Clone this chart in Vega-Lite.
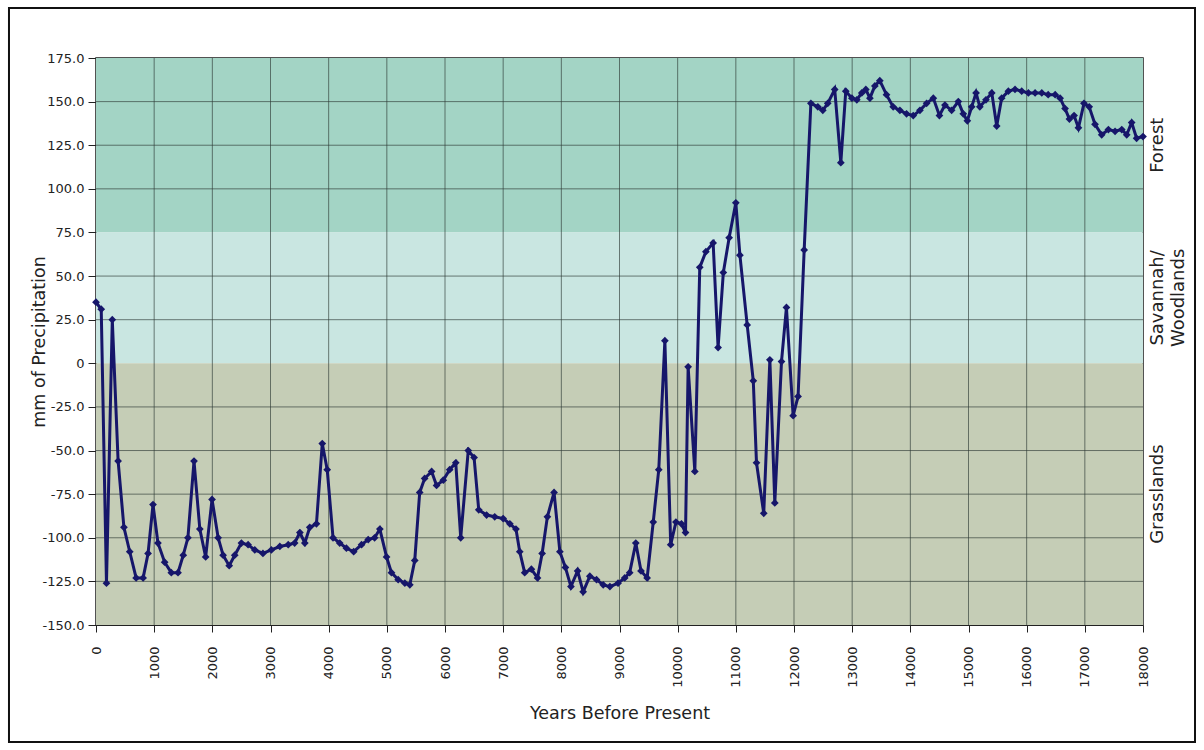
{
  "$schema": "https://vega.github.io/schema/vega-lite/v6.json",
  "width": 1047,
  "height": 567,
  "autosize": {"type": "none"},
  "padding": {"left": 96, "top": 58, "right": 61, "bottom": 125},
  "background": "white",
  "config": {
    "view": {"stroke": "#1a1a1a", "strokeWidth": 1.5},
    "font": "DejaVu Sans"
  },
  "datasets": {
    "bands": [
      {"zone": "Forest", "lo": 75, "hi": 175},
      {"zone": "Savannah", "lo": 0, "hi": 75},
      {"zone": "Grassland", "lo": -150, "hi": 0}
    ],
    "zonelabels": [
      {"label": "Forest", "mid": 125},
      {"label": "Savannah/\nWoodlands", "mid": 37.5},
      {"label": "Grasslands", "mid": -75}
    ],
    "xgrid": [{"v":1000},{"v":2000},{"v":3000},{"v":4000},{"v":5000},{"v":6000},{"v":7000},{"v":8000},{"v":9000},{"v":10000},{"v":11000},{"v":12000},{"v":13000},{"v":14000},{"v":15000},{"v":16000},{"v":17000}],
    "ygrid": [{"v":-125},{"v":-100},{"v":-75},{"v":-50},{"v":-25},{"v":25},{"v":50},{"v":100},{"v":125},{"v":150}],
    "precip": [
      {"year":0,"mm":35},{"year":90,"mm":31},{"year":180,"mm":-126},{"year":280,"mm":25},{"year":380,"mm":-56},{"year":480,"mm":-94},{"year":580,"mm":-108},{"year":690,"mm":-123},{"year":810,"mm":-123},{"year":895,"mm":-109},{"year":980,"mm":-81},{"year":1065,"mm":-103},{"year":1180,"mm":-114},{"year":1295,"mm":-120},{"year":1410,"mm":-120},{"year":1500,"mm":-110},{"year":1580,"mm":-100},{"year":1685,"mm":-56},{"year":1785,"mm":-95},{"year":1885,"mm":-111},{"year":1995,"mm":-78},{"year":2100,"mm":-100},{"year":2185,"mm":-110},{"year":2290,"mm":-116},{"year":2385,"mm":-110},{"year":2500,"mm":-103},{"year":2615,"mm":-104},{"year":2730,"mm":-107},{"year":2870,"mm":-109},{"year":3015,"mm":-107},{"year":3160,"mm":-105},{"year":3305,"mm":-104},{"year":3415,"mm":-103},{"year":3505,"mm":-97},{"year":3590,"mm":-103},{"year":3675,"mm":-94},{"year":3790,"mm":-92},{"year":3890,"mm":-46},{"year":3975,"mm":-61},{"year":4075,"mm":-100},{"year":4190,"mm":-103},{"year":4305,"mm":-106},{"year":4430,"mm":-108},{"year":4565,"mm":-104},{"year":4680,"mm":-101},{"year":4790,"mm":-100},{"year":4880,"mm":-95},{"year":4995,"mm":-111},{"year":5080,"mm":-120},{"year":5195,"mm":-124},{"year":5310,"mm":-126},{"year":5395,"mm":-127},{"year":5480,"mm":-113},{"year":5565,"mm":-74},{"year":5650,"mm":-66},{"year":5770,"mm":-62},{"year":5855,"mm":-70},{"year":5970,"mm":-67},{"year":6080,"mm":-61},{"year":6185,"mm":-57},{"year":6270,"mm":-100},{"year":6400,"mm":-50},{"year":6500,"mm":-54},{"year":6580,"mm":-84},{"year":6715,"mm":-87},{"year":6855,"mm":-88},{"year":7000,"mm":-89},{"year":7115,"mm":-92},{"year":7220,"mm":-95},{"year":7285,"mm":-108},{"year":7370,"mm":-120},{"year":7485,"mm":-118},{"year":7590,"mm":-123},{"year":7670,"mm":-109},{"year":7760,"mm":-88},{"year":7875,"mm":-74},{"year":7975,"mm":-108},{"year":8070,"mm":-117},{"year":8165,"mm":-128},{"year":8280,"mm":-119},{"year":8375,"mm":-131},{"year":8490,"mm":-122},{"year":8605,"mm":-124},{"year":8720,"mm":-127},{"year":8835,"mm":-128},{"year":8975,"mm":-126},{"year":9090,"mm":-123},{"year":9175,"mm":-120},{"year":9280,"mm":-103},{"year":9370,"mm":-119},{"year":9475,"mm":-123},{"year":9580,"mm":-91},{"year":9675,"mm":-61},{"year":9780,"mm":13},{"year":9880,"mm":-104},{"year":9970,"mm":-91},{"year":10065,"mm":-92},{"year":10135,"mm":-97},{"year":10180,"mm":-2},{"year":10295,"mm":-62},{"year":10380,"mm":55},{"year":10485,"mm":64},{"year":10610,"mm":69},{"year":10695,"mm":9},{"year":10785,"mm":52},{"year":10885,"mm":72},{"year":11000,"mm":92},{"year":11070,"mm":62},{"year":11195,"mm":22},{"year":11300,"mm":-10},{"year":11355,"mm":-57},{"year":11480,"mm":-86},{"year":11585,"mm":2},{"year":11670,"mm":-80},{"year":11785,"mm":1},{"year":11870,"mm":32},{"year":11985,"mm":-30},{"year":12070,"mm":-19},{"year":12175,"mm":65},{"year":12290,"mm":149},{"year":12410,"mm":147},{"year":12495,"mm":145},{"year":12580,"mm":149},{"year":12700,"mm":157},{"year":12805,"mm":115},{"year":12890,"mm":156},{"year":12995,"mm":152},{"year":13080,"mm":151},{"year":13165,"mm":155},{"year":13235,"mm":157},{"year":13305,"mm":152},{"year":13390,"mm":159},{"year":13475,"mm":162},{"year":13590,"mm":154},{"year":13705,"mm":147},{"year":13820,"mm":145},{"year":13935,"mm":143},{"year":14050,"mm":142},{"year":14165,"mm":145},{"year":14280,"mm":149},{"year":14395,"mm":152},{"year":14500,"mm":142},{"year":14595,"mm":148},{"year":14710,"mm":145},{"year":14825,"mm":150},{"year":14910,"mm":143},{"year":14980,"mm":139},{"year":15055,"mm":147},{"year":15130,"mm":155},{"year":15195,"mm":147},{"year":15300,"mm":151},{"year":15400,"mm":155},{"year":15485,"mm":136},{"year":15570,"mm":152},{"year":15685,"mm":156},{"year":15800,"mm":157},{"year":15915,"mm":156},{"year":16030,"mm":155},{"year":16145,"mm":155},{"year":16260,"mm":155},{"year":16370,"mm":154},{"year":16490,"mm":154},{"year":16575,"mm":152},{"year":16660,"mm":146},{"year":16735,"mm":140},{"year":16815,"mm":142},{"year":16890,"mm":135},{"year":16985,"mm":149},{"year":17075,"mm":147},{"year":17175,"mm":137},{"year":17290,"mm":131},{"year":17405,"mm":134},{"year":17520,"mm":133},{"year":17635,"mm":134},{"year":17720,"mm":131},{"year":17805,"mm":138},{"year":17890,"mm":129},{"year":18000,"mm":130}
    ]
  },
  "layer": [
    {
      "data": {"name": "bands"},
      "mark": {"type": "rect"},
      "encoding": {
        "x": {"datum": 0, "type": "quantitative", "scale": {"domain": [0, 18000], "nice": false, "zero": false},
          "axis": {"values": [0,1000,2000,3000,4000,5000,6000,7000,8000,9000,10000,11000,12000,13000,14000,15000,16000,17000,18000],
            "format": "d", "labelAngle": 270, "labelAlign": "right", "labelBaseline": "middle", "labelFontSize": 13, "labelColor": "#222",
            "labelPadding": 14, "tickSize": 7, "tickColor": "#222", "domainColor": "#222", "grid": false, "labelOverlap": false, "labelFlush": false,
            "title": "Years Before Present", "titleFontSize": 17.5, "titleFontWeight": "normal", "titleColor": "#222", "titlePadding": 17}},
        "x2": {"datum": 18000},
        "y": {"field": "lo", "type": "quantitative", "scale": {"domain": [-150, 175], "nice": false, "zero": false},
          "axis": {"values": [-150,-125,-100,-75,-50,-25,0,25,50,75,100,125,150,175],
            "labelExpr": "datum.value == 0 ? '0' : (datum.value < 0 ? '-' : '') + format(abs(datum.value), '.1f')", "labelFontSize": 13, "labelColor": "#222",
            "labelPadding": 4, "tickSize": 8, "tickColor": "#222", "domainColor": "#222", "grid": false, "labelOverlap": false, "labelFlush": false,
            "title": "mm of Precipitation", "titleFontSize": 17.5, "titleFontWeight": "normal", "titleColor": "#222", "titleX": -48}},
        "y2": {"field": "hi"},
        "color": {"field": "zone", "type": "nominal", "legend": null,
          "scale": {"domain": ["Forest", "Savannah", "Grassland"], "range": ["#a3d4c5", "#c9e6e1", "#c5cdb6"]}}
      }
    },
    {
      "data": {"name": "xgrid"},
      "mark": {"type": "rule", "color": "#2e3a36", "strokeWidth": 1, "opacity": 0.65},
      "encoding": {"x": {"field": "v", "type": "quantitative"}}
    },
    {
      "data": {"name": "ygrid"},
      "mark": {"type": "rule", "color": "#2e3a36", "strokeWidth": 1, "opacity": 0.65},
      "encoding": {"y": {"field": "v", "type": "quantitative"}}
    },
    {
      "data": {"values": [{"frame": 1}]},
      "mark": {"type": "rect", "fillOpacity": 0, "stroke": "#111111", "strokeWidth": 2},
      "encoding": {
        "x": {"datum": -1496, "type": "quantitative"},
        "x2": {"datum": 18894},
        "y": {"datum": 203.66, "type": "quantitative"},
        "y2": {"datum": -217.06}
      }
    },
    {
      "data": {"name": "precip"},
      "mark": {"type": "line", "color": "#16166a", "strokeWidth": 3,
        "point": {"shape": "diamond", "filled": true, "size": 60, "color": "#16166a"}},
      "encoding": {
        "x": {"field": "year", "type": "quantitative"},
        "y": {"field": "mm", "type": "quantitative"}
      }
    },
    {
      "data": {"name": "zonelabels"},
      "mark": {"type": "text", "angle": 270, "align": "center", "baseline": "top", "dy": 6, "fontSize": 18, "color": "#222", "lineBreak": "\n", "lineHeight": 21},
      "encoding": {
        "x": {"datum": 18000, "type": "quantitative"},
        "y": {"field": "mid", "type": "quantitative"},
        "text": {"field": "label", "type": "nominal"}
      }
    }
  ]
}
